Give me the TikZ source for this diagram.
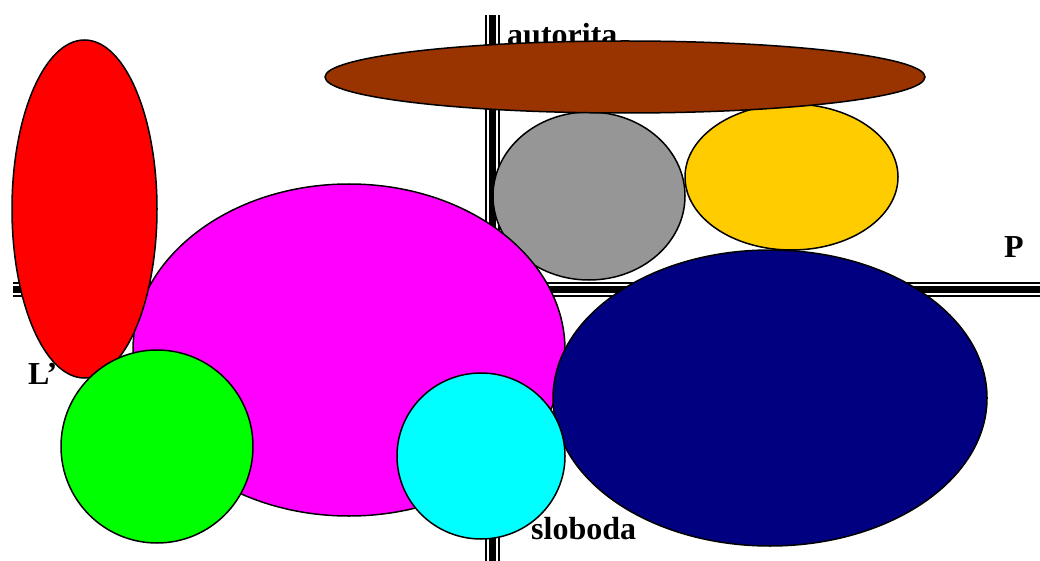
\documentclass[tikz,border=0pt]{standalone}
\usepackage{fontspec}
\setmainfont{Liberation Serif}

\definecolor{brownfill}{RGB}{153,51,0}
\definecolor{grayfill}{RGB}{150,150,150}
\definecolor{goldfill}{RGB}{255,204,0}
\definecolor{navyfill}{RGB}{0,0,128}
\definecolor{pinkfill}{RGB}{255,0,255}
\definecolor{aquafill}{RGB}{0,255,255}
\definecolor{limefill}{RGB}{0,255,0}
\definecolor{redfill}{RGB}{255,0,0}

\begin{document}
\begin{tikzpicture}[
        x=1pt, y=-1pt,
        blob/.style={draw=black, line width=1.5pt},
        label/.style={font=\fontsize{32}{32}\selectfont\bfseries, inner sep=0pt, anchor=base west},
        axisouter/.style={draw=black, line width=14.5pt},
        axisgap/.style={draw=white, line width=11pt},
        axiscore/.style={draw=black, line width=7.5pt}
    ]
    \useasboundingbox (0,0) rectangle (1040,561);

    % axes
    \coordinate (vtop) at (492.5,15);
    \coordinate (vbot) at (492.5,561);
    \coordinate (hleft) at (13,289.5);
    \coordinate (hright) at (1040,289.5);
    \foreach \st in {axisouter, axisgap, axiscore} {
        \draw[\st] (vtop) -- (vbot);
        \draw[\st] (hleft) -- (hright);
    }

    \node[label] (autorita) at (507,46) {autorita};
    \node[label] (P) at (1004,257) {P};
    \node[label] (L) at (28,384) {L’};
    \node[label] (sloboda) at (531,539) {sloboda};

    % blobs
    \draw[blob, fill=grayfill] (589,196) ellipse [x radius=96, y radius=84];
    \draw[blob, fill=goldfill] (791.5,177) ellipse [x radius=106.5, y radius=73];
    \draw[blob, fill=brownfill] (625,77) ellipse [x radius=300, y radius=36];
    \draw[blob, fill=pinkfill] (349,350) ellipse [x radius=216, y radius=166];
    \draw[blob, fill=redfill] (84.5,209) ellipse [x radius=72.5, y radius=169];
    \draw[blob, fill=navyfill] (770,398) ellipse [x radius=217, y radius=148];
    \draw[blob, fill=limefill] (157,446.5) ellipse [x radius=96, y radius=96.5];
    \draw[blob, fill=aquafill] (481,456) ellipse [x radius=84, y radius=83];
\end{tikzpicture}
\end{document}
